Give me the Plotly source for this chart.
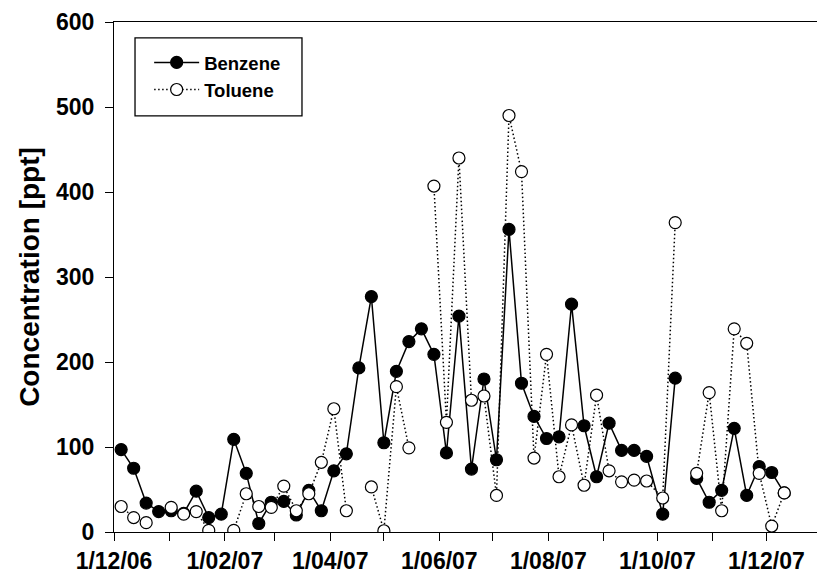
import plotly.graph_objects as go

# Weekly sampling dates (dd/mm/yy axis), with a missing sample in mid-October 2007
dates = [
    "2006-12-05", "2006-12-12", "2006-12-19", "2006-12-26",
    "2007-01-02", "2007-01-09", "2007-01-16", "2007-01-23", "2007-01-30",
    "2007-02-06", "2007-02-13", "2007-02-20", "2007-02-27",
    "2007-03-06", "2007-03-13", "2007-03-20", "2007-03-27",
    "2007-04-03", "2007-04-10", "2007-04-17", "2007-04-24",
    "2007-05-01", "2007-05-08", "2007-05-15", "2007-05-22", "2007-05-29",
    "2007-06-05", "2007-06-12", "2007-06-19", "2007-06-26",
    "2007-07-03", "2007-07-10", "2007-07-17", "2007-07-24", "2007-07-31",
    "2007-08-07", "2007-08-14", "2007-08-21", "2007-08-28",
    "2007-09-04", "2007-09-11", "2007-09-18", "2007-09-25",
    "2007-10-04", "2007-10-11", "2007-10-17", "2007-10-23", "2007-10-30",
    "2007-11-06", "2007-11-13", "2007-11-20", "2007-11-27",
    "2007-12-04", "2007-12-11",
]

benzene = [
    97, 75, 34, 24,
    25, 22, 48, 17, 21,
    109, 69, 10, 35,
    36, 20, 49, 25,
    72, 92, 193, 277,
    105, 189, 224, 239, 209,
    93, 254, 74, 180,
    85, 356, 175, 136, 110,
    112, 268, 125, 65,
    128, 96, 96, 89,
    21, 181, None, 63, 35,
    49, 122, 43, 77,
    70, 46,
]

toluene = [
    30, 17, 11, None,
    29, 21, 24, 2, None,
    2, 45, 30, 29,
    54, 25, 45, 82,
    145, 25, None, 53,
    1.5, 171, 99, None, 407,
    129, 440, 155, 160,
    43, 490, 424, 87, 209,
    65, 126, 55, 161,
    72, 59, 61, 60,
    40, 364, None, 69, 164,
    25, 239, 222, 69,
    7, 46,
]

# Monthly tick marks, labelled every second month
tick_dates = [
    "2006-12-01", "2007-01-01", "2007-02-01", "2007-03-01", "2007-04-01",
    "2007-05-01", "2007-06-01", "2007-07-01", "2007-08-01", "2007-09-01",
    "2007-10-01", "2007-11-01", "2007-12-01",
]
tick_labels = [
    "1/12/06", "", "1/02/07", "", "1/04/07", "", "1/06/07", "",
    "1/08/07", "", "1/10/07", "", "1/12/07",
]

y_ticks = [0, 100, 200, 300, 400, 500, 600]

FONT = "Liberation Sans, Arial, sans-serif"

fig = go.Figure()

fig.add_trace(go.Scatter(
    x=dates, y=benzene, name="Benzene",
    mode="lines+markers",
    line=dict(color="black", width=1.5),
    marker=dict(symbol="circle", size=12, color="black",
                line=dict(color="black", width=1.2)),
))

fig.add_trace(go.Scatter(
    x=dates, y=toluene, name="Toluene",
    mode="lines+markers",
    line=dict(color="black", width=1.5, dash="1.5px,2.5px"),
    marker=dict(symbol="circle", size=12, color="white",
                line=dict(color="black", width=1.2)),
))

# frame around the legend entries
fig.add_shape(
    type="rect", xref="paper", yref="paper",
    x0=0.0299, x1=0.2674, y0=0.816, y1=0.969,
    line=dict(color="black", width=1.3), fillcolor="rgba(0,0,0,0)",
    layer="above",
)

fig.update_layout(
    width=817, height=576,
    margin=dict(l=114, r=0, t=22, b=44),
    paper_bgcolor="white", plot_bgcolor="white",
    font=dict(family=FONT, color="black"),
    showlegend=True,
    legend=dict(
        x=0.05, y=0.957, xanchor="left", yanchor="top",
        bgcolor="rgba(0,0,0,0)", borderwidth=0,
        itemwidth=45,
        font=dict(family=FONT, size=18.5, weight="bold", color="black"),
        tracegroupgap=0,
    ),
)

fig.update_xaxes(
    type="date",
    range=["2006-12-01", "2007-12-29 08:00"],
    tickvals=tick_dates, ticktext=tick_labels,
    ticks="outside", ticklen=8, tickwidth=1.3, tickcolor="black",
    showline=True, linecolor="black", linewidth=1.3, mirror=True,
    showgrid=False, zeroline=False,
    tickfont=dict(family=FONT, size=23, weight="bold", color="black"),
)

fig.update_yaxes(
    range=[0, 600],
    tickvals=y_ticks,
    ticks="outside", ticklen=8, tickwidth=1.3, tickcolor="black",
    showline=True, linecolor="black", linewidth=1.3, mirror=False,
    showgrid=False, zeroline=False,
    ticklabelstandoff=6,
    tickfont=dict(family=FONT, size=23, weight="bold", color="black"),
    title=dict(text="Concentration [ppt]", standoff=8,
               font=dict(family=FONT, size=28, weight="bold", color="black")),
)

fig.write_html("out.html")
